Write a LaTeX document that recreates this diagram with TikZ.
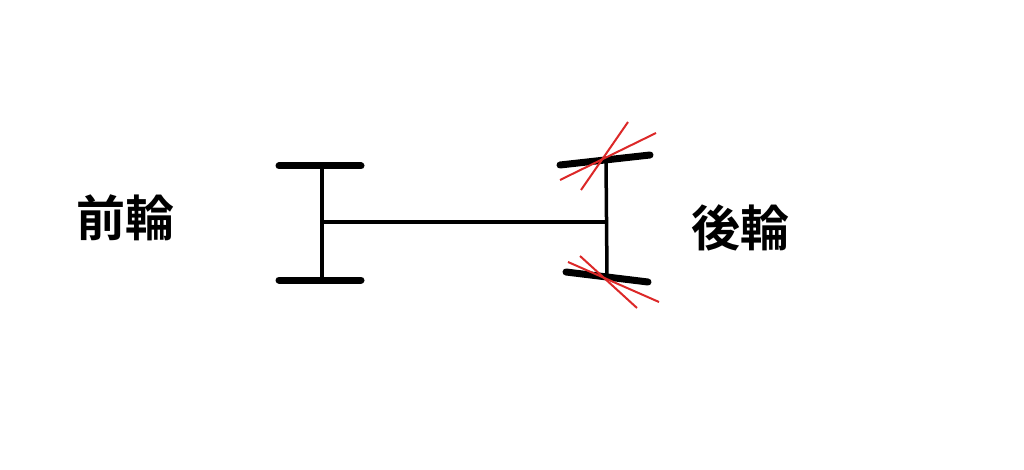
\documentclass[tikz,border=0pt]{standalone}
\usepackage{fontspec}
\newfontfamily\cjk{Noto Sans CJK JP}[BoldFont={Noto Sans CJK JP Bold}]
\begin{document}
\begin{tikzpicture}[x=1pt,y=-1pt,
  wheel/.style={line width=7pt,line cap=round},
  axle/.style={line width=3.5pt},
  thinaxle/.style={line width=3.2pt},
  red/.style={draw={rgb,255:red,220;green,40;blue,40},line width=2pt},
  lbl/.style={font=\cjk\bfseries\fontsize{49}{49}\selectfont}]
\useasboundingbox (0,0) rectangle (1024,470);
\coordinate (lt1) at (279,166); \coordinate (lt2) at (361,166);
\coordinate (lb1) at (279,280); \coordinate (lb2) at (361,280);
\coordinate (la) at (322,168); \coordinate (lb) at (322,283);
\coordinate (lm) at (322,222); \coordinate (rm) at (608,222);
\coordinate (ra) at (606,160); \coordinate (rb) at (607,276);
\coordinate (rt1) at (560,165); \coordinate (rt2) at (650,155);
\coordinate (rb1) at (566,272); \coordinate (rb2) at (648,282);
\draw[wheel] (lt1) -- (lt2); \draw[wheel] (lb1) -- (lb2);
\draw[axle] (la) -- (lb); \draw[axle] (ra) -- (rb);
\draw[thinaxle] (lm) -- (rm);
\draw[wheel] (rt1) -- (rt2); \draw[wheel] (rb1) -- (rb2);
\coordinate (r1a) at (560,180); \coordinate (r1b) at (656,133);
\coordinate (r2a) at (581,190); \coordinate (r2b) at (628,122);
\coordinate (r3a) at (568,262); \coordinate (r3b) at (659,302);
\coordinate (r4a) at (580,256); \coordinate (r4b) at (637,308);
\draw[red] (r1a) -- (r1b); \draw[red] (r2a) -- (r2b);
\draw[red] (r3a) -- (r3b); \draw[red] (r4a) -- (r4b);
\node[lbl] (front) at (125,218) {前輪};
\node[lbl] (rear) at (740,228) {後輪};
\end{tikzpicture}
\end{document}
